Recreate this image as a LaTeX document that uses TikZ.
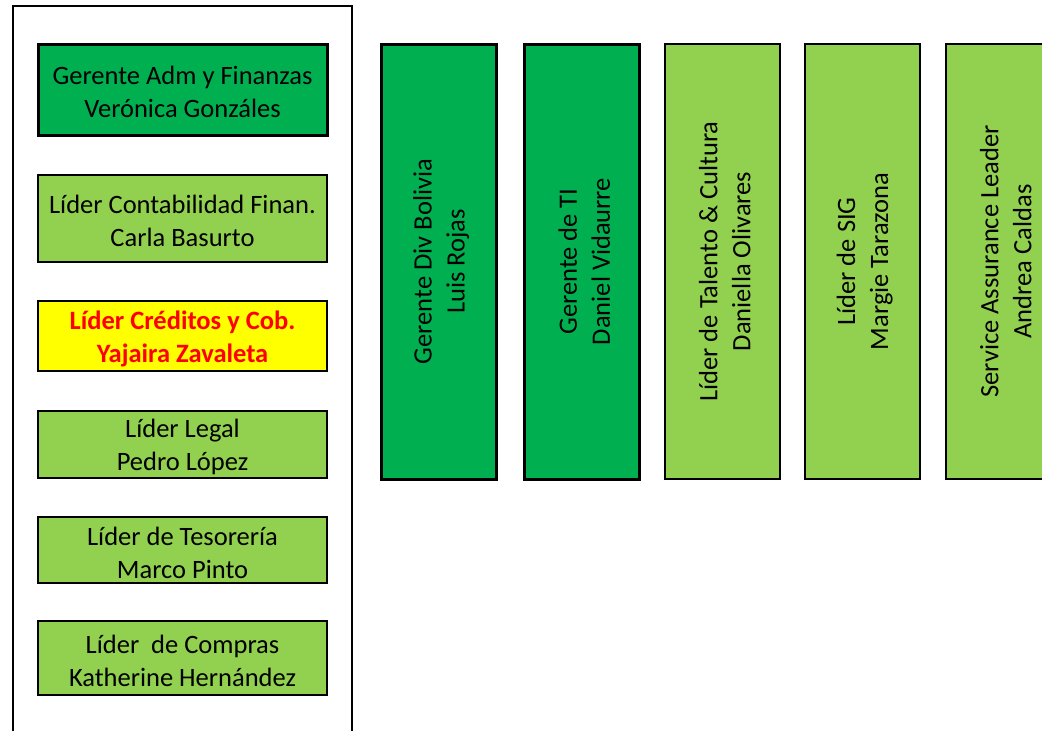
\documentclass[tikz,border=0pt]{standalone}
\usepackage{fontspec}
\setmainfont{Carlito}
\definecolor{dkgreen}{HTML}{00B050}
\definecolor{ltgreen}{HTML}{92D050}
\definecolor{ylw}{HTML}{FFFF00}
\definecolor{rd}{HTML}{FF0000}
\newcommand{\dn}{\rule{0pt}{24pt}}
\begin{document}
\begin{tikzpicture}[x=1pt,y=-1pt,
  txt/.style={font=\fontsize{26.5}{33}\selectfont, align=center, text=black},
  hbox/.style={txt, draw=black, line width=2pt, minimum width=289pt, inner sep=0pt},
  vbox/.style={txt, draw=black, line width=2pt, rotate=90, minimum width=435pt, minimum height=115pt, inner sep=0pt},
  dk/.style={fill=dkgreen, line width=3pt},
  lt/.style={fill=ltgreen},
  hl/.style={fill=ylw, text=rd, font=\fontsize{26.5}{33}\selectfont\bfseries}
]
\useasboundingbox (0,0) rectangle (1042,731);
\clip (0,0) rectangle (1042,731);
% frame
\coordinate (fbl) at (12.5,735);
\coordinate (ftl) at (12.5,5.5);
\coordinate (ftr) at (352,5.5);
\coordinate (fbr) at (352,735);
\draw[line width=2pt] (fbl) -- (ftl) -- (ftr) -- (fbr);
% left column
\node[hbox, dk, minimum height=91pt] (g1) at (182.5,89.5) {\dn Gerente Adm y Finanzas\\Verónica Gonzáles};
\node[hbox, lt, minimum height=87pt] (g2) at (182.5,218.5) {\dn Líder Contabilidad Finan.\\Carla Basurto};
\node[hbox, hl, minimum height=70pt] (g3) at (182.5,336) {\dn Líder Créditos y Cob.\\Yajaira Zavaleta};
\node[hbox, lt, minimum height=67pt] (g4) at (182.5,444.5) {\dn Líder Legal\\Pedro López};
\node[hbox, lt, minimum height=66pt] (g5) at (182.5,550) {\dn Líder de Tesorería\\Marco Pinto};
\node[hbox, lt, minimum height=74pt] (g6) at (182.5,658) {\dn Líder\ \ de Compras\\Katherine Hernández};
% right row
\node[vbox, dk] (r1) at (438.5,261.5) {\dn Gerente Div Bolivia\\Luis Rojas};
\node[vbox, dk] (r2) at (581.5,261.5) {\dn Gerente de TI\\Daniel Vidaurre};
\node[vbox, lt] (r3) at (722,261.5) {\dn Líder de Talento \& Cultura\\Daniella Olivares};
\node[vbox, lt] (r4) at (862,261.5) {\dn Líder de SIG\\Margie Tarazona};
\node[vbox, lt] (r5) at (1003,261.5) {\dn Service Assurance Leader\\Andrea Caldas};
\end{tikzpicture}
\end{document}
